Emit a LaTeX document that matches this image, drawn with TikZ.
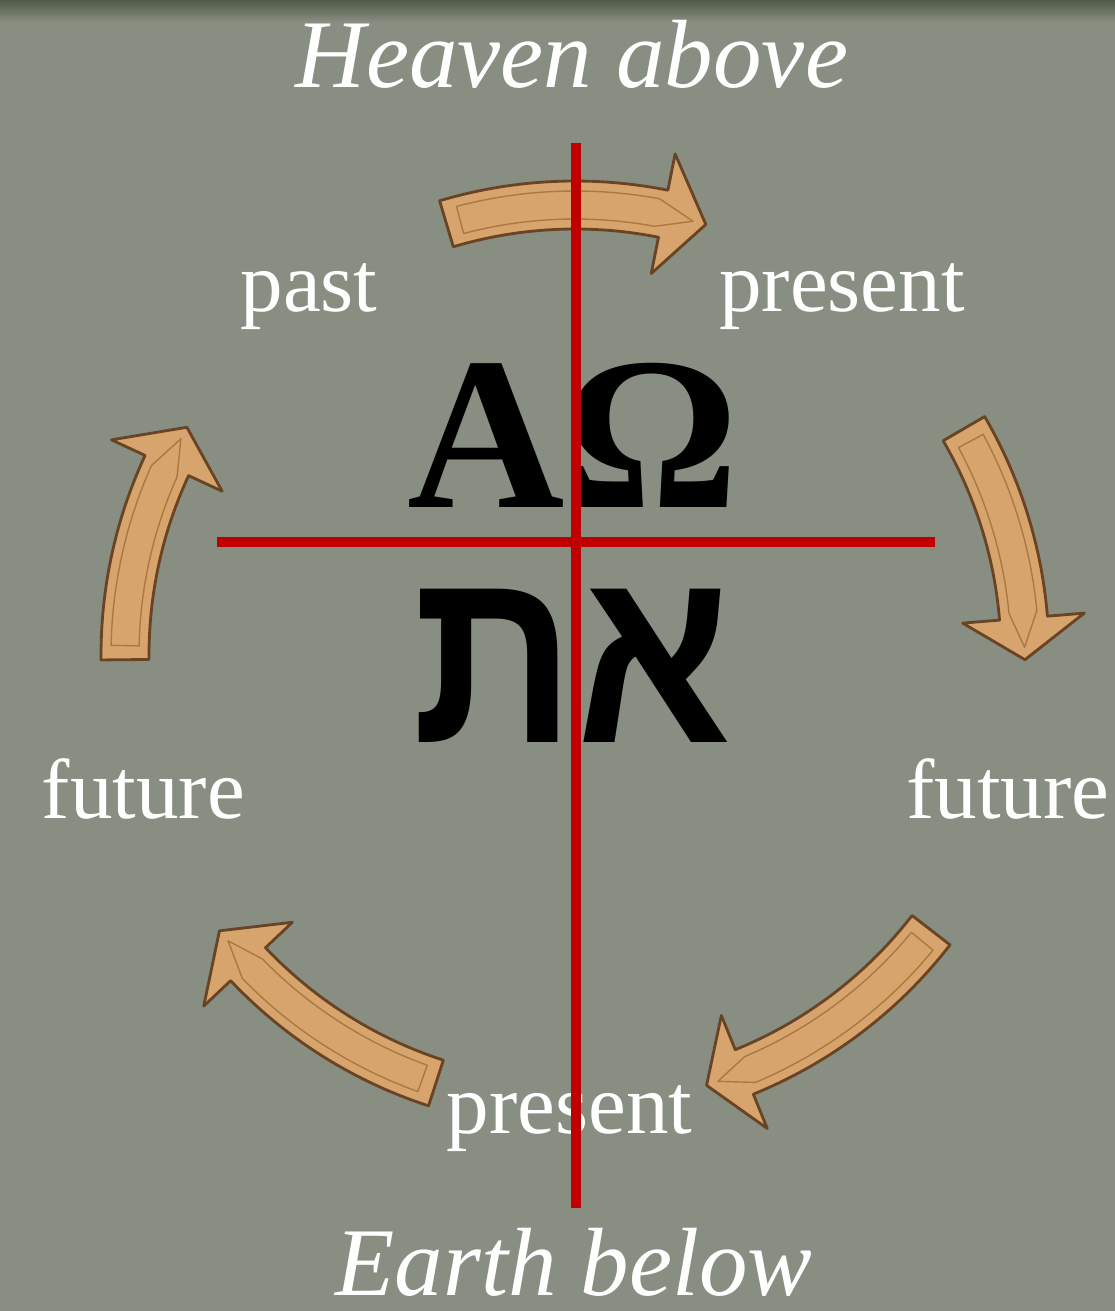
\documentclass[tikz,border=0pt]{standalone}
\usepackage{fontspec}
\setmainfont{Liberation Serif}
\newfontfamily\hebfont[Script=Hebrew]{Liberation Sans}
\TeXXeTstate=1
\usetikzlibrary{calc}

\definecolor{slate}{RGB}{136,142,129}
\definecolor{slatedark}{RGB}{82,90,72}
\definecolor{crossred}{RGB}{192,0,0}
\definecolor{woodfill}{RGB}{214,164,108}
\definecolor{woodedge}{RGB}{105,68,36}
\definecolor{woodline}{RGB}{172,120,66}

% curved arrow on the ring: #1 tail angle, #2 head base angle, #3 tip angle
\newcommand{\ringarrow}[3]{%
  \filldraw[woodfill, draw=woodedge, line width=0.8pt, line join=round]
    (#1:4.74) arc[start angle=#1, end angle=#2, radius=4.74]
    -- (#2:5.11) -- (#3:4.50) -- (#2:3.89) -- (#2:4.26)
    arc[start angle=#2, end angle=#1, radius=4.26] -- cycle;
  \draw[woodline, line width=0.4pt, line join=round]
    (#1-1.8:4.64) arc[start angle=#1-1.8, end angle=#2+0.8, radius=4.64]
    -- ($(#3:4.50)!0.3!(#2:4.50)$)
    -- (#2+0.8:4.36) arc[start angle=#2+0.8, end angle=#1-1.8, radius=4.36] -- cycle;
}

\begin{document}
\begin{tikzpicture}[
    word/.style={text=white, inner sep=0pt, anchor=base, font=\fontsize{24.2}{29}\selectfont},
    sky/.style={text=white, inner sep=0pt, anchor=base, font=\fontsize{27.6}{33}\selectfont\itshape},
    letters/.style={text=black, inner sep=0pt, anchor=base},
    crossline/.style={crossred, line width=3.1pt},
]
% background
\fill[slate] (0,0) rectangle (11.15,-13.11);
\shade[top color=slatedark, bottom color=slate] (0,0) rectangle (11.15,-0.22);
\useasboundingbox (0,0) rectangle (11.15,-13.11);

% arrows round the ring
\begin{scope}[shift={(5.75,-6.55)}]
  \ringarrow{106.6}{78.7}{73.1}
  \ringarrow{30.2}{4.7}{-0.6}
  \ringarrow{-37.7}{-67.9}{-73}
  \ringarrow{252}{223.4}{217.8}
  \ringarrow{180.6}{155.1}{149.6}
\end{scope}

% labels
\node[sky] (heaven) at (5.72,-0.88) {Heaven above};
\node[sky] (earth) at (5.74,-12.95) {Earth below};
\node[word] (past) at (3.09,-3.12) {past};
\node[word] (presentA) at (8.42,-3.12) {present};
\node[word] (futureL) at (1.435,-8.18) {future};
\node[word] (futureR) at (10.08,-8.18) {future};
\node[word] (presentB) at (5.695,-11.33) {present};

% alpha omega, aleph tav
\node[letters, font=\fontsize{62}{68}\selectfont\bfseries] (greek) at (5.73,-5.07) {ΑΩ};
\node[letters, xscale=0.9, font=\hebfont\fontsize{72}{78}\selectfont\bfseries] (hebrew) at (5.72,-7.42) {\beginR את\endR};

% the cross
\draw[crossline] (5.76,-1.43) -- (5.76,-12.08);
\draw[crossline] (2.17,-5.42) -- (9.35,-5.42);
\end{tikzpicture}
\end{document}
